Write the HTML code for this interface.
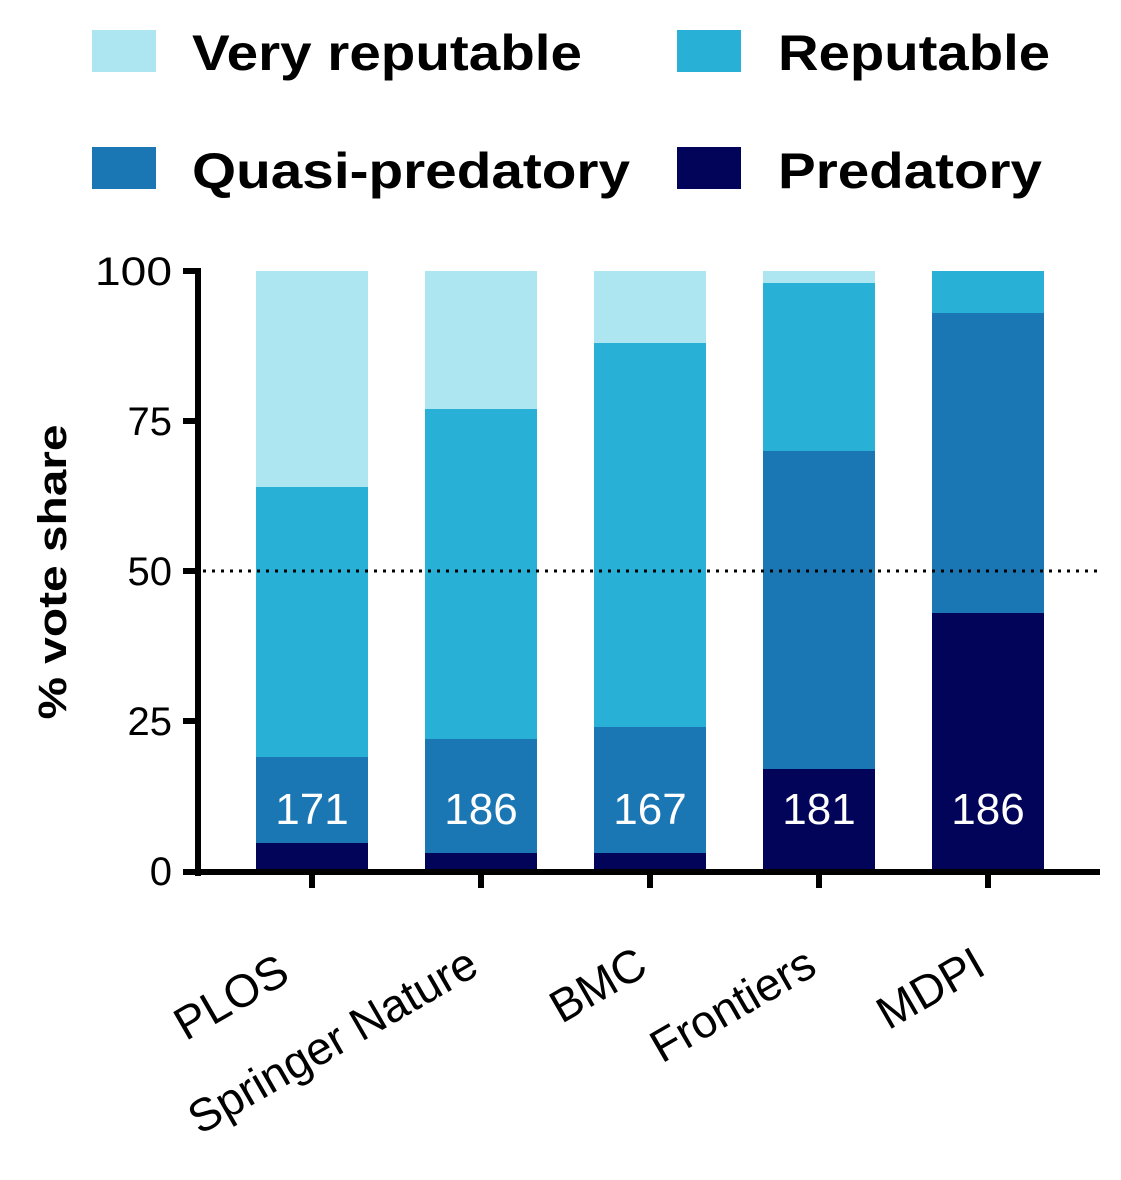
<!DOCTYPE html>
<html><head><meta charset="utf-8"><style>body{margin:0;background:#fff}svg{display:block}</style></head>
<body>
<svg width="1121" height="1180" xmlns="http://www.w3.org/2000/svg" font-family="Liberation Sans, Arial, sans-serif">
<rect x="92" y="30" width="64" height="42" fill="#ade5f0"/>
<rect x="677" y="30" width="64" height="42" fill="#29b0d6"/>
<rect x="92" y="147" width="64" height="42" fill="#1b77b4"/>
<rect x="677" y="147" width="64" height="42" fill="#02045a"/>
<g font-weight="bold" font-size="50" fill="#000">
<text x="192" y="70" textLength="390" lengthAdjust="spacingAndGlyphs">Very reputable</text>
<text x="778" y="70" textLength="272" lengthAdjust="spacingAndGlyphs">Reputable</text>
<text x="192" y="188" textLength="438" lengthAdjust="spacingAndGlyphs">Quasi-predatory</text>
<text x="778" y="188" textLength="264" lengthAdjust="spacingAndGlyphs">Predatory</text>
</g>
<g>
<rect x="256" y="271" width="112" height="216" fill="#ade5f0"/>
<rect x="256" y="487" width="112" height="270" fill="#29b0d6"/>
<rect x="256" y="757" width="112" height="86" fill="#1b77b4"/>
<rect x="256" y="843" width="112" height="28" fill="#02045a"/>
<rect x="425" y="271" width="112" height="138" fill="#ade5f0"/>
<rect x="425" y="409" width="112" height="330" fill="#29b0d6"/>
<rect x="425" y="739" width="112" height="114" fill="#1b77b4"/>
<rect x="425" y="853" width="112" height="18" fill="#02045a"/>
<rect x="594" y="271" width="112" height="72" fill="#ade5f0"/>
<rect x="594" y="343" width="112" height="384" fill="#29b0d6"/>
<rect x="594" y="727" width="112" height="126" fill="#1b77b4"/>
<rect x="594" y="853" width="112" height="18" fill="#02045a"/>
<rect x="763" y="271" width="112" height="12" fill="#ade5f0"/>
<rect x="763" y="283" width="112" height="168" fill="#29b0d6"/>
<rect x="763" y="451" width="112" height="318" fill="#1b77b4"/>
<rect x="763" y="769" width="112" height="102" fill="#02045a"/>
<rect x="932" y="271" width="112" height="42" fill="#29b0d6"/>
<rect x="932" y="313" width="112" height="300" fill="#1b77b4"/>
<rect x="932" y="613" width="112" height="258" fill="#02045a"/>
</g>
<g font-size="44" fill="#fff" text-anchor="middle">
<text x="312" y="824">171</text>
<text x="481" y="824">186</text>
<text x="650" y="824">167</text>
<text x="819" y="824">181</text>
<text x="988" y="824">186</text>
</g>
<line x1="203" y1="571" x2="1100" y2="571" stroke="#000" stroke-width="3" stroke-dasharray="3,6"/>
<g stroke="#000" stroke-width="6">
<line x1="198" y1="268" x2="198" y2="876"/>
<line x1="183" y1="872" x2="1100" y2="872"/>
<line x1="183" y1="271" x2="198" y2="271"/>
<line x1="183" y1="421" x2="198" y2="421"/>
<line x1="183" y1="571" x2="198" y2="571"/>
<line x1="183" y1="721" x2="198" y2="721"/>
<line x1="312" y1="872" x2="312" y2="888"/>
<line x1="481" y1="872" x2="481" y2="888"/>
<line x1="650" y1="872" x2="650" y2="888"/>
<line x1="819" y1="872" x2="819" y2="888"/>
<line x1="988" y1="872" x2="988" y2="888"/>
</g>
<g font-size="40" text-anchor="end" fill="#000">
<text x="172" y="285" textLength="77" lengthAdjust="spacingAndGlyphs">100</text>
<text x="172" y="435">75</text>
<text x="172" y="585">50</text>
<text x="172" y="735">25</text>
<text x="172" y="885">0</text>
</g>
<text transform="translate(66,572) rotate(-90)" text-anchor="middle" font-size="40" font-weight="bold" textLength="295" lengthAdjust="spacingAndGlyphs">% vote share</text>
<g font-size="46" text-anchor="end">
<text transform="translate(292,980) rotate(-30)">PLOS</text>
<text transform="translate(481,973) rotate(-30)">Springer Nature</text>
<text transform="translate(650,973) rotate(-30)">BMC</text>
<text transform="translate(819,973) rotate(-30)">Frontiers</text>
<text transform="translate(988,973) rotate(-30)">MDPI</text>
</g>
</svg>
</body></html>
